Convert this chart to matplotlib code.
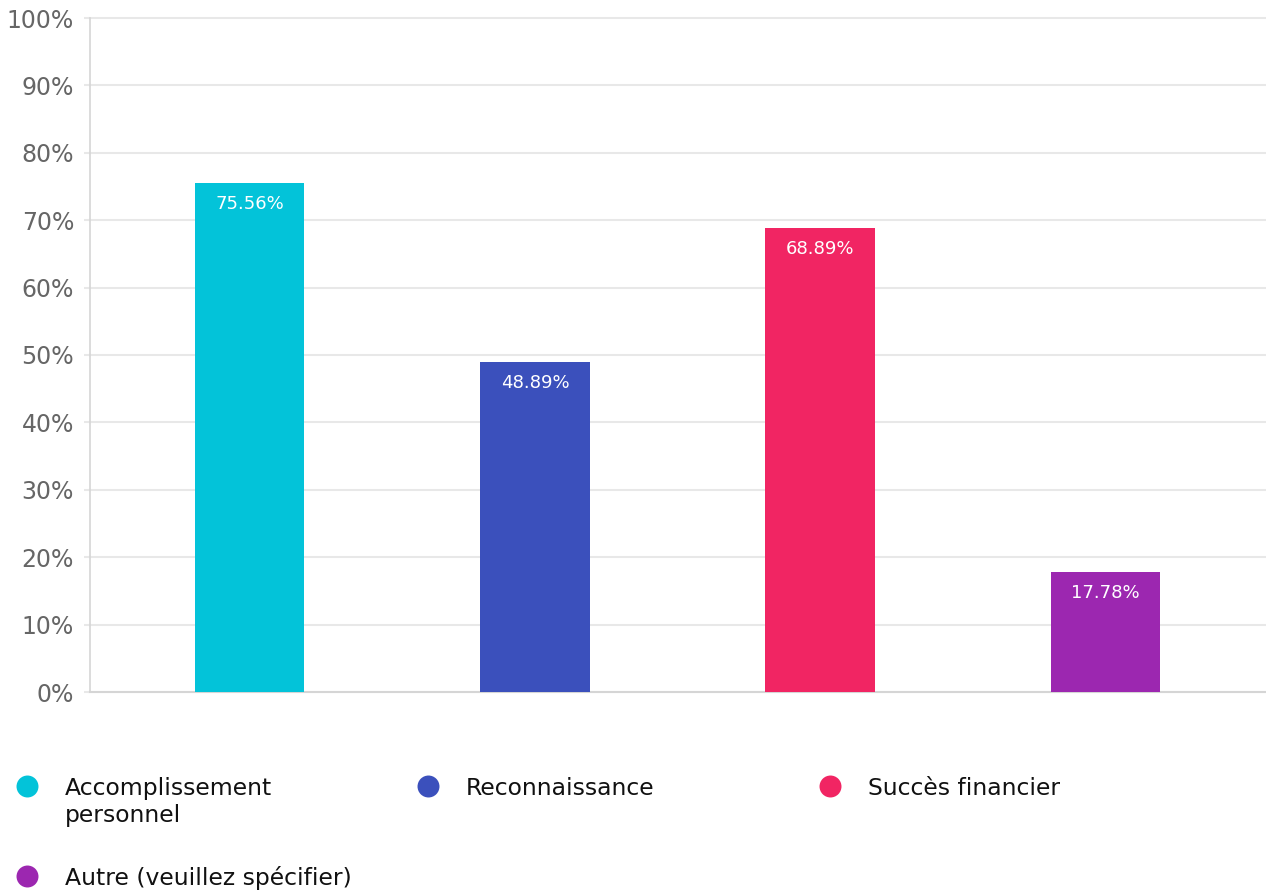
import numpy as np
import matplotlib.pyplot as plt
from matplotlib.ticker import FuncFormatter

plt.rcParams['font.family'] = ['DejaVu Sans']

categories = ['Accomplissement\npersonnel', 'Reconnaissance', 'Succès financier',
              'Autre (veuillez spécifier)']
values = [75.56, 48.89, 68.89, 17.78]
colors = ['#03C3D9', '#3B50BC', '#F12563', '#9C27B0']

W, H = 1266, 892
fig = plt.figure(figsize=(W / 100, H / 100), dpi=100)
ax = fig.add_axes([90 / W, 1 - 692 / H, 1175 / W, 674 / H])

x = np.arange(len(values))
bars = ax.bar(x, values, width=0.383, color=colors, zorder=3)
for b, v in zip(bars, values):
    ax.annotate(f'{v:.2f}%', (b.get_x() + b.get_width() / 2, v),
                xytext=(0, -15), textcoords='offset points',
                ha='center', va='center', color='white', fontsize=13, zorder=4)

ax.set_xlim(-0.56, 3.56)
ax.set_ylim(0, 100)
ax.set_yticks(np.arange(0, 101, 10))
ax.yaxis.set_major_formatter(FuncFormatter(lambda v, p: f'{v:.0f}%'))
ax.set_xticks([])
ax.grid(axis='y', color='#e8e8e8', linewidth=1.5, zorder=0)
for gl in ax.get_ygridlines():
    gl.set_clip_on(False)
ax.tick_params(axis='y', length=4.5, width=1.5, color='#e8e8e8', pad=7,
               labelsize=17, labelcolor='#666666')
for s in ['top', 'right']:
    ax.spines[s].set_visible(False)
ax.spines['left'].set_color('#d5d5d5')
ax.spines['bottom'].set_color('#d5d5d5')
ax.spines['left'].set_linewidth(1.2)
ax.spines['bottom'].set_linewidth(1.5)

# legend drawn by hand in pixel coordinates under the plot
lax = fig.add_axes([0, 0, 1, 1], zorder=-1)
lax.set_xlim(0, W)
lax.set_ylim(H, 0)
lax.axis('off')
slots = [(27, 786), (428, 786), (830, 786), (27, 876)]
for (px, py), lab, c in zip(slots, categories, colors):
    lax.scatter([px], [py], s=250, color=c, linewidths=0)
    for k, line in enumerate(lab.split('\n')):
        lax.text(px + 38, py + 9 + 27 * k, line, fontsize=16.9, color='#111111',
                 va='baseline', ha='left')

fig.savefig('out.png', dpi=100)
